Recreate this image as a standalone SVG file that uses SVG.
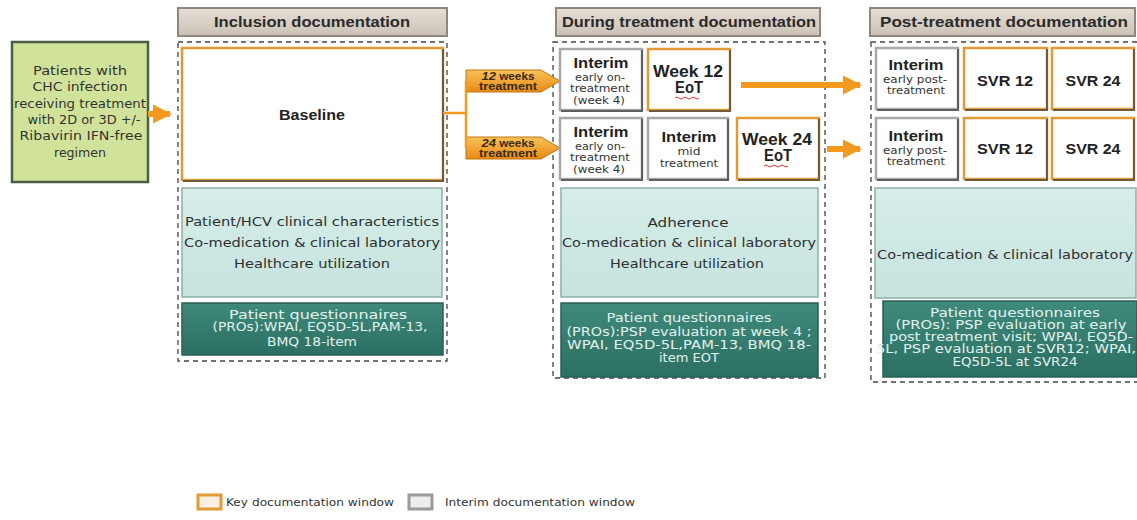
<svg xmlns="http://www.w3.org/2000/svg" width="1137" height="520" viewBox="0 0 1137 520">
<defs>
<linearGradient id="hdr" x1="0" y1="0" x2="0" y2="1"><stop offset="0" stop-color="#e6dfd7"/><stop offset="1" stop-color="#cbc1b6"/></linearGradient>
<linearGradient id="tag" x1="0" y1="0" x2="0" y2="1"><stop offset="0" stop-color="#f8c25a"/><stop offset="1" stop-color="#e88a12"/></linearGradient>
<linearGradient id="lt" x1="0" y1="0" x2="0" y2="1"><stop offset="0" stop-color="#d6eeea"/><stop offset="1" stop-color="#c6e3de"/></linearGradient>
<linearGradient id="dk" x1="0" y1="0" x2="0" y2="1"><stop offset="0" stop-color="#3f8a7b"/><stop offset="1" stop-color="#2b6f62"/></linearGradient>
<marker id="ah" viewBox="0 0 10 10" refX="9" refY="5" markerWidth="3.2" markerHeight="3.2" orient="auto" markerUnits="strokeWidth"><path d="M0,0 L10,5 L0,10 z" fill="#f39a1e"/></marker>
</defs>
<style>
text{lengthAdjust:spacingAndGlyphs}
.hdr{fill:url(#hdr);stroke:#8e877e;stroke-width:2}
.ht{font-family:"Liberation Sans",Arial,sans-serif;font-weight:bold;font-size:15.5px;fill:#2b2b2b;text-anchor:middle}
.dash{fill:none;stroke:#444;stroke-width:1.3;stroke-dasharray:5,4}
.key{fill:#fff;stroke:#e39a35;stroke-width:2.5}
.keysh{fill:none;stroke:#6e5a3c;stroke-width:2}
.int{fill:#fff;stroke:#a8a8a8;stroke-width:2.5}
.intsh{fill:none;stroke:#5f5f5f;stroke-width:2}
.lt{fill:url(#lt);stroke:#90aea8;stroke-width:1.5}
.dk{fill:url(#dk);stroke:#2a5e55;stroke-width:1.5}
.b{font-family:"Liberation Sans",Arial,sans-serif;font-weight:bold;fill:#222;text-anchor:middle}
.s{font-family:"DejaVu Sans",Verdana,sans-serif;fill:#333;text-anchor:middle}
.w{font-family:"DejaVu Sans",Verdana,sans-serif;fill:#e2f2ee;text-anchor:middle;font-size:12px}
.c{font-family:"DejaVu Sans",Verdana,sans-serif;fill:#2f2f2f;text-anchor:middle;font-size:13px}
.tg{font-family:"Liberation Sans",Arial,sans-serif;font-weight:bold;font-size:10px;fill:#3a2a10;text-anchor:middle}
.lg{font-family:"DejaVu Sans",Verdana,sans-serif;font-size:10px;fill:#333}
.conn{fill:none;stroke:#f39a1e}
.squig{fill:none;stroke:#e0312b;stroke-width:1}
</style>

<g id="header-inclusion"><rect class="hdr" x="178" y="8" width="269" height="28"/><text class="ht" x="312" y="27" textLength="196" lengthAdjust="spacingAndGlyphs">Inclusion documentation</text></g>
<g id="header-during"><rect class="hdr" x="556" y="8" width="264" height="28"/><text class="ht" x="689" y="27" textLength="254" lengthAdjust="spacingAndGlyphs">During treatment documentation</text></g>
<g id="header-post"><rect class="hdr" x="870" y="8" width="265" height="28"/><text class="ht" x="1004" y="27" textLength="248" lengthAdjust="spacingAndGlyphs">Post-treatment documentation</text></g>

<g id="frames">
<rect class="dash" x="178" y="42" width="269" height="319"/>
<rect class="dash" x="553" y="42" width="272" height="336"/>
<rect class="dash" x="871" y="42" width="270" height="340"/>
</g>

<g id="patients"><rect x="12" y="42" width="136" height="140" fill="#d1e39a" stroke="#4d5e42" stroke-width="2.5"/>
<g class="s" font-size="12.5px"><text x="80" y="75" textLength="94" lengthAdjust="spacingAndGlyphs">Patients with</text><text x="80" y="91" textLength="95" lengthAdjust="spacingAndGlyphs">CHC infection</text><text x="80" y="108" textLength="132" lengthAdjust="spacingAndGlyphs">receiving treatment</text><text x="84" y="124" textLength="113" lengthAdjust="spacingAndGlyphs">with 2D or 3D +/-</text><text x="81" y="140" textLength="123" lengthAdjust="spacingAndGlyphs">Ribavirin IFN-free</text><text x="80" y="157" textLength="52" lengthAdjust="spacingAndGlyphs">regimen</text></g></g>

<g id="baseline"><rect class="key" x="182" y="48" width="261" height="132"/><path class="keysh" d="M443,49 V181 H183"/><text class="b" x="312" y="120" font-size="14.5px" textLength="66" lengthAdjust="spacingAndGlyphs">Baseline</text></g>

<g id="incl-clin"><rect class="lt" x="182" y="188" width="260" height="109"/>
<text class="c" x="312" y="226" textLength="254" lengthAdjust="spacingAndGlyphs">Patient/HCV clinical characteristics</text>
<text class="c" x="312" y="247" textLength="256" lengthAdjust="spacingAndGlyphs">Co-medication &amp; clinical laboratory</text>
<text class="c" x="312" y="268" textLength="156" lengthAdjust="spacingAndGlyphs">Healthcare utilization</text></g>
<g id="incl-pro"><rect class="dk" x="182" y="303" width="261" height="52"/>
<text class="w" x="318" y="319" textLength="178" lengthAdjust="spacingAndGlyphs">Patient questionnaires</text><text class="w" x="320" y="331" textLength="215" lengthAdjust="spacingAndGlyphs">(PROs):WPAI, EQ5D-5L,PAM-13,</text><text class="w" x="312" y="346" textLength="90" lengthAdjust="spacingAndGlyphs">BMQ 18-item</text></g>

<g id="tag12"><path d="M466,70 H541 L560,81 L541,92 H466 z" fill="url(#tag)" stroke="#c27413" stroke-width="1"/>
<text class="tg" x="508" y="80" textLength="53" lengthAdjust="spacingAndGlyphs"><tspan font-style="italic" font-size="11px">12</tspan> weeks</text>
<text class="tg" x="508" y="90" textLength="58" lengthAdjust="spacingAndGlyphs">treatment</text></g>
<g id="tag24"><path d="M466,137 H541 L560,148 L541,159 H466 z" fill="url(#tag)" stroke="#c27413" stroke-width="1"/>
<text class="tg" x="508" y="147" textLength="53" lengthAdjust="spacingAndGlyphs"><tspan font-style="italic" font-size="11px">24</tspan> weeks</text>
<text class="tg" x="508" y="157" textLength="58" lengthAdjust="spacingAndGlyphs">treatment</text></g>

<g id="d-int1"><rect class="int" x="560" y="49" width="82" height="61"/><path class="intsh" d="M642,50 V111 H561"/>
<text class="b" x="601" y="68" font-size="14px" textLength="55" lengthAdjust="spacingAndGlyphs">Interim</text><g class="s" font-size="10.5px"><text x="600" y="81" textLength="50" lengthAdjust="spacingAndGlyphs">early on-</text><text x="600" y="92" textLength="60" lengthAdjust="spacingAndGlyphs">treatment</text><text x="599" y="104" textLength="52" lengthAdjust="spacingAndGlyphs">(week 4)</text></g></g>
<g id="d-wk12"><rect class="key" x="648" y="49" width="82" height="61"/><path class="keysh" d="M730,50 V111 H649"/>
<text class="b" x="688" y="77" font-size="16px" textLength="70" lengthAdjust="spacingAndGlyphs">Week 12</text><text class="b" x="689" y="93" font-size="16px" textLength="28" lengthAdjust="spacingAndGlyphs">EoT</text><path class="squig" d="M675,98 q2,-2 4,0 t4,0 t4,0 t4,0 t4,0 t4,0"/></g>
<g id="d-int2"><rect class="int" x="560" y="118" width="82" height="61"/><path class="intsh" d="M642,119 V180 H561"/>
<text class="b" x="601" y="137" font-size="14px" textLength="55" lengthAdjust="spacingAndGlyphs">Interim</text><g class="s" font-size="10.5px"><text x="600" y="150" textLength="50" lengthAdjust="spacingAndGlyphs">early on-</text><text x="600" y="161" textLength="60" lengthAdjust="spacingAndGlyphs">treatment</text><text x="599" y="173" textLength="52" lengthAdjust="spacingAndGlyphs">(week 4)</text></g></g>
<g id="d-mid"><rect class="int" x="648" y="118" width="80" height="61"/><path class="intsh" d="M728,119 V180 H649"/>
<text class="b" x="689" y="142" font-size="14px" textLength="55" lengthAdjust="spacingAndGlyphs">Interim</text><g class="s" font-size="10.5px"><text x="689" y="155" textLength="23" lengthAdjust="spacingAndGlyphs">mid</text><text x="689" y="167" textLength="58" lengthAdjust="spacingAndGlyphs">treatment</text></g></g>
<g id="d-wk24"><rect class="key" x="737" y="118" width="82" height="61"/><path class="keysh" d="M819,119 V180 H738"/>
<text class="b" x="777" y="145" font-size="16px" textLength="70" lengthAdjust="spacingAndGlyphs">Week 24</text><text class="b" x="778" y="161" font-size="16px" textLength="28" lengthAdjust="spacingAndGlyphs">EoT</text><path class="squig" d="M764,166 q2,-2 4,0 t4,0 t4,0 t4,0 t4,0 t4,0"/></g>

<g id="during-clin"><rect class="lt" x="561" y="188" width="257" height="109"/>
<text class="c" x="688" y="227" textLength="81" lengthAdjust="spacingAndGlyphs">Adherence</text>
<text class="c" x="689" y="247" textLength="254" lengthAdjust="spacingAndGlyphs">Co-medication &amp; clinical laboratory</text>
<text class="c" x="687" y="268" textLength="154" lengthAdjust="spacingAndGlyphs">Healthcare utilization</text></g>
<g id="during-pro"><rect class="dk" x="561" y="303" width="257" height="74"/>
<text class="w" x="689" y="322" textLength="165" lengthAdjust="spacingAndGlyphs">Patient questionnaires</text><text class="w" x="689" y="336" textLength="245" lengthAdjust="spacingAndGlyphs">(PROs):PSP evaluation at week 4 ;</text><text class="w" x="689" y="349" textLength="244" lengthAdjust="spacingAndGlyphs">WPAI, EQ5D-5L,PAM-13, BMQ 18-</text><text class="w" x="689" y="362" textLength="60" lengthAdjust="spacingAndGlyphs">item EOT</text></g>

<g id="p-int1"><rect class="int" x="876" y="48" width="82" height="61"/><path class="intsh" d="M958,49 V110 H877"/>
<text class="b" x="916" y="70" font-size="14px" textLength="55" lengthAdjust="spacingAndGlyphs">Interim</text><g class="s" font-size="10px"><text x="915" y="83" textLength="64" lengthAdjust="spacingAndGlyphs">early post-</text><text x="916" y="94" textLength="58" lengthAdjust="spacingAndGlyphs">treatment</text></g></g>
<g id="p-svr12a"><rect class="key" x="964" y="48" width="83" height="61"/><path class="keysh" d="M1047,49 V110 H965"/><text class="b" x="1005" y="86" font-size="15.5px" textLength="56" lengthAdjust="spacingAndGlyphs">SVR 12</text></g>
<g id="p-svr24a"><rect class="key" x="1052" y="48" width="82" height="61"/><path class="keysh" d="M1134,49 V110 H1053"/><text class="b" x="1093" y="86" font-size="15.5px" textLength="55" lengthAdjust="spacingAndGlyphs">SVR 24</text></g>
<g id="p-int2"><rect class="int" x="876" y="118" width="82" height="61"/><path class="intsh" d="M958,119 V180 H877"/>
<text class="b" x="916" y="141" font-size="14px" textLength="55" lengthAdjust="spacingAndGlyphs">Interim</text><g class="s" font-size="10px"><text x="915" y="154" textLength="64" lengthAdjust="spacingAndGlyphs">early post-</text><text x="916" y="165" textLength="58" lengthAdjust="spacingAndGlyphs">treatment</text></g></g>
<g id="p-svr12b"><rect class="key" x="964" y="118" width="83" height="61"/><path class="keysh" d="M1047,119 V180 H965"/><text class="b" x="1005" y="154" font-size="15.5px" textLength="56" lengthAdjust="spacingAndGlyphs">SVR 12</text></g>
<g id="p-svr24b"><rect class="key" x="1052" y="118" width="82" height="61"/><path class="keysh" d="M1134,119 V180 H1053"/><text class="b" x="1093" y="154" font-size="15.5px" textLength="55" lengthAdjust="spacingAndGlyphs">SVR 24</text></g>

<g id="post-clin"><rect class="lt" x="875" y="188" width="261" height="110"/>
<text class="c" x="1005" y="259" textLength="256" lengthAdjust="spacingAndGlyphs">Co-medication &amp; clinical laboratory</text></g>
<g id="post-pro"><rect class="dk" x="883" y="301" width="254" height="76"/>
<text class="w" x="1015" y="317" textLength="170" lengthAdjust="spacingAndGlyphs">Patient questionnaires</text><text class="w" x="1011" y="329" textLength="231" lengthAdjust="spacingAndGlyphs">(PROs): PSP evaluation at  early</text><text class="w" x="1011" y="341" textLength="244" lengthAdjust="spacingAndGlyphs">post treatment visit; WPAI, EQ5D-</text><text class="w" x="1006" y="353" textLength="260" lengthAdjust="spacingAndGlyphs">5L, PSP evaluation at SVR12; WPAI,</text><text class="w" x="1015" y="366" textLength="125" lengthAdjust="spacingAndGlyphs">EQ5D-5L  at SVR24</text></g>

<g id="connectors">
<path class="conn" stroke-width="6" d="M148,114 H170" marker-end="url(#ah)"/>
<path class="conn" stroke-width="2.5" d="M443,113 H466 M466,81 V148"/>
<path class="conn" stroke-width="6" d="M741,85 H860" marker-end="url(#ah)"/>
<path class="conn" stroke-width="6" d="M827,149 H860" marker-end="url(#ah)"/>
</g>

<g id="legend">
<rect x="198" y="495" width="23" height="14" fill="#f7efe2" stroke="#e39a35" stroke-width="3"/>
<text class="lg" x="226" y="506" textLength="168" lengthAdjust="spacingAndGlyphs">Key documentation window</text>
<rect x="409" y="495" width="23" height="14" fill="#eeeeee" stroke="#9a9a9a" stroke-width="3"/>
<text class="lg" x="445" y="506" textLength="190" lengthAdjust="spacingAndGlyphs">Interim documentation window</text>
</g>
</svg>
